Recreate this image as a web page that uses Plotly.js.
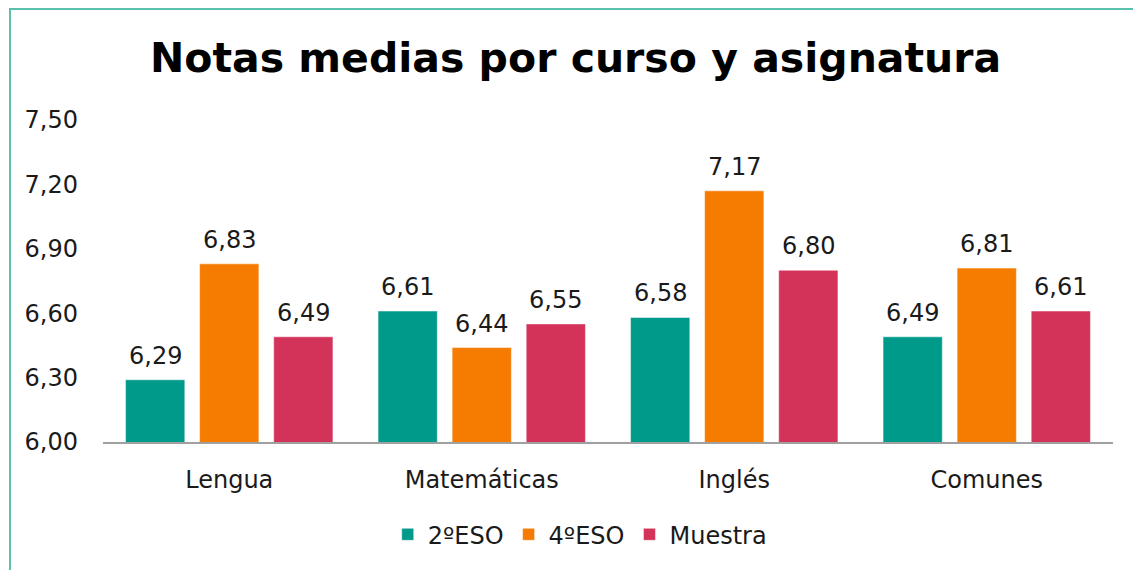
<!DOCTYPE html>
<html>
<head>
<meta charset="utf-8">
<script src="https://cdn.plot.ly/plotly-3.0.1.min.js"></script>
<style>
  html, body { margin: 0; padding: 0; background: #fff; }
  #wrap { position: relative; width: 1133px; height: 570px; }
  #chart { width: 1133px; height: 570px; }
  .bl { position: absolute; left: 9px; top: 8px; width: 2px; height: 562px; background: #5bbfae; }
  .bt { position: absolute; left: 9px; top: 8px; width: 1124px; height: 2px; background: #5bbfae; }
</style>
</head>
<body>
<div id="wrap">
  <div id="chart"></div>
  <div class="bl"></div>
  <div class="bt"></div>
</div>
<script>
const categories = ["Lengua", "Matemáticas", "Inglés", "Comunes"];
const seriesNames = ["2ºESO", "4ºESO", "Muestra"];
const eso2 = [6.29, 6.61, 6.58, 6.49];
const eso4 = [6.83, 6.44, 7.17, 6.81];
const muestra = [6.49, 6.55, 6.80, 6.61];
const colors = ["#009a8a", "#f57c00", "#d43359"];
const yTicks = [6.00, 6.30, 6.60, 6.90, 7.20, 7.50];

const FONT = "'DejaVu Sans', sans-serif";
const seriesValues = [eso2, eso4, muestra];

const traces = seriesValues.map((vals, i) => ({
  type: "bar",
  name: seriesNames[i],
  x: categories,
  y: vals,
  marker: { color: colors[i], line: { color: "rgba(255,255,255,0.6)", width: 0.8 } },
  hoverinfo: "skip"
}));

const shifts = [-74, 0, 74];
const annotations = [];
seriesValues.forEach((vals, i) => {
  vals.forEach((v, j) => {
    annotations.push({
      x: categories[j], y: v, xref: "x", yref: "y",
      text: v.toFixed(2).replace(".", ","),
      showarrow: false, yanchor: "bottom", xanchor: "center",
      xshift: shifts[i], yshift: 8,
      font: { family: FONT, size: 24, color: "#1a1a1a" }
    });
  });
});

const layout = {
  width: 1133, height: 570,
  margin: { l: 103, r: 20, t: 120, b: 128, pad: 0 },
  paper_bgcolor: "#ffffff", plot_bgcolor: "#ffffff",
  separators: ", ",
  barmode: "group",
  bargap: 0.12,
  bargroupgap: 0.2,
  showlegend: true,
  title: {
    text: "<b>Notas medias por curso y asignatura</b>",
    font: { family: FONT, size: 41, color: "#000" },
    xref: "container", yref: "container",
    x: 0.508, xanchor: "center", y: 0.898, yanchor: "middle"
  },
  xaxis: {
    type: "category",
    showgrid: false, zeroline: false,
    showline: true, linecolor: "#a0a0a0", linewidth: 1.5,
    ticks: "", ticklabelstandoff: 16,
    tickfont: { family: FONT, size: 24, color: "#1a1a1a" },
    fixedrange: true
  },
  yaxis: {
    range: [6.0, 7.5],
    tickvals: yTicks,
    tickformat: ".2f",
    showgrid: false, zeroline: false, showline: false,
    ticks: "", ticklabelstandoff: 24,
    tickfont: { family: FONT, size: 24, color: "#1a1a1a" },
    fixedrange: true
  },
  legend: {
    orientation: "h",
    x: 0.472, xanchor: "center",
    y: -0.288, yanchor: "middle",
    font: { family: FONT, size: 24, color: "#1a1a1a" },
    itemclick: false, itemdoubleclick: false
  },
  annotations: annotations
};

Plotly.newPlot("chart", traces, layout, { displayModeBar: false, staticPlot: true });
</script>
</body>
</html>
